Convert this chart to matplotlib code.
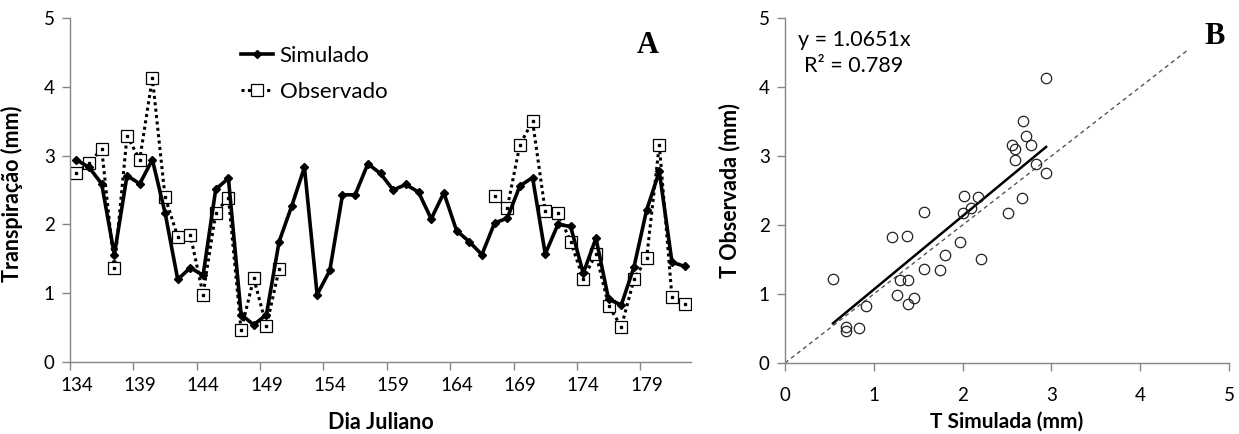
import numpy as np
import matplotlib
matplotlib.use("Agg")
import matplotlib.pyplot as plt

plt.rcParams['font.family'] = ['Lato', 'DejaVu Sans']

# ---------------- data ----------------
days = list(range(134, 183))
simulado = [2.94, 2.83, 2.59, 1.56, 2.71, 2.59, 2.94, 2.17, 1.20, 1.37,
            1.26, 2.51, 2.67, 0.69, 0.54, 0.69, 1.75, 2.27, 2.83, 0.98,
            1.33, 2.43, 2.43, 2.88, 2.74, 2.50, 2.58, 2.47, 2.08, 2.46,
            1.91, 1.75, 1.56, 2.02, 2.09, 2.56, 2.68, 1.57, 2.00, 1.97,
            1.29, 1.80, 0.91, 0.83, 1.38, 2.21, 2.77, 1.45, 1.39]
nan = np.nan
observado = [2.75, 2.89, 3.10, 1.36, 3.29, 2.94, 4.13, 2.40, 1.82, 1.84,
             0.98, 2.17, 2.39, 0.46, 1.22, 0.52, 1.35, nan, nan, nan,
             nan, nan, nan, nan, nan, nan, nan, nan, nan, nan,
             nan, nan, nan, 2.42, 2.24, 3.16, 3.50, 2.19, 2.17, 1.75,
             1.21, 1.57, 0.82, 0.51, 1.20, 1.51, 3.16, 0.94, 0.85]
day_labels = ['134', '139', '144', '149', '154', '159', '164', '169', '174', '179']
slope = 1.0651
r2_text = '0.789'
ref_line_end = 4.55

GREY = '#868686'

fig = plt.figure(figsize=(12.39, 4.34), dpi=100)

# ---------------- panel A ----------------
W, H = 1239, 434
ax1 = fig.add_axes([70 / W, (H - 362) / H, 621 / W, 344 / H])
d = np.array(days, dtype=float)
sim = np.array(simulado)
obs = np.array(observado)

ax1.plot(d, sim, color='black', lw=2.6, marker='D', ms=4.5,
         mfc='black', mec='black', label='Simulado', zorder=3)
ax1.plot(d, obs, color='black', lw=2.2, ls=(0, (1, 1.1)), marker='s', ms=8,
         mfc='white', mec='black', mew=0.9, label='Observado', zorder=2)
ax1.plot(d, obs, ls='none', marker='s', ms=1.6, color='black', zorder=2.5)

ax1.set_xlim(days[0] - 0.5, days[-1] + 0.5)
ax1.set_ylim(0, 5)
ax1.set_yticks([0, 1, 2, 3, 4, 5])
lab_pos = [int(s) for s in day_labels]
ax1.set_xticks([p - 0.5 for p in lab_pos])
ax1.set_xticklabels([])
ax1.set_xticks(lab_pos, minor=True)
ax1.set_xticklabels(day_labels, minor=True)
ax1.tick_params(axis='x', which='major', direction='out', length=6,
                color=GREY, width=1)
ax1.tick_params(axis='x', which='minor', length=0, pad=11, labelsize=13.5)
ax1.tick_params(axis='y', direction='out', length=6, color=GREY, width=1,
                labelsize=13.5, pad=5)
for s in ['top', 'right']:
    ax1.spines[s].set_visible(False)
for s in ['left', 'bottom']:
    ax1.spines[s].set_color(GREY)
    ax1.spines[s].set_linewidth(1)

ax1.set_ylabel('Transpiração (mm)', fontsize=15.5, fontweight='bold')
ax1.yaxis.set_label_coords(-0.075, 0.49)
ax1.set_xlabel('Dia Juliano', fontsize=15.5, fontweight='bold')
ax1.xaxis.set_label_coords(0.5, -0.145)

leg = ax1.legend(loc='upper left', bbox_to_anchor=(0.275, 0.918),
                 frameon=False, fontsize=16, handlelength=1.45,
                 handletextpad=0.3, labelspacing=0.72, borderpad=0,
                 borderaxespad=0)

ax1.text(0.931, 0.92, 'A', transform=ax1.transAxes, ha='center', va='center',
         fontsize=22, fontweight='bold', family='Liberation Serif')

# ---------------- panel B ----------------
ax2 = fig.add_axes([785 / W, (H - 363) / H, 444 / W, 345 / H])
mask = ~np.isnan(obs)
xs = sim[mask]
ys = obs[mask]
ax2.plot(xs, ys, ls='none', marker='o', ms=7.5, mfc='none', mec='#222222',
         mew=0.9, zorder=3)
xr = np.array([xs.min(), xs.max()])
ax2.plot(xr, slope * xr, color='black', lw=1.8, zorder=2)
ax2.plot([0, ref_line_end], [0, ref_line_end], color='#555555', lw=1.0,
         ls=(0, (3, 2.5)), zorder=1)

ax2.set_xlim(0, 5)
ax2.set_ylim(0, 5)
ax2.set_xticks([0, 1, 2, 3, 4, 5])
ax2.set_yticks([0, 1, 2, 3, 4, 5])
ax2.tick_params(direction='out', length=6, color=GREY, width=1,
                labelsize=13.5)
ax2.tick_params(axis='x', pad=11)
ax2.tick_params(axis='y', pad=5)
for s in ['top', 'right']:
    ax2.spines[s].set_visible(False)
for s in ['left', 'bottom']:
    ax2.spines[s].set_color(GREY)
    ax2.spines[s].set_linewidth(1)

ax2.set_ylabel('T Observada (mm)', fontsize=15.5, fontweight='bold')
ax2.yaxis.set_label_coords(-0.10, 0.5)
ax2.set_xlabel('T Simulada (mm)', fontsize=15, fontweight='bold')
ax2.xaxis.set_label_coords(0.5, -0.14)

ax2.text(0.155, 0.965, 'y = %.4fx\nR² = %s' % (slope, r2_text),
         transform=ax2.transAxes, ha='center', va='top', fontsize=15.5,
         multialignment='center', linespacing=1.35)
ax2.text(0.968, 0.945, 'B', transform=ax2.transAxes, ha='center',
         va='center', fontsize=22, fontweight='bold', family='Liberation Serif')

fig.savefig('out.png', dpi=100)
